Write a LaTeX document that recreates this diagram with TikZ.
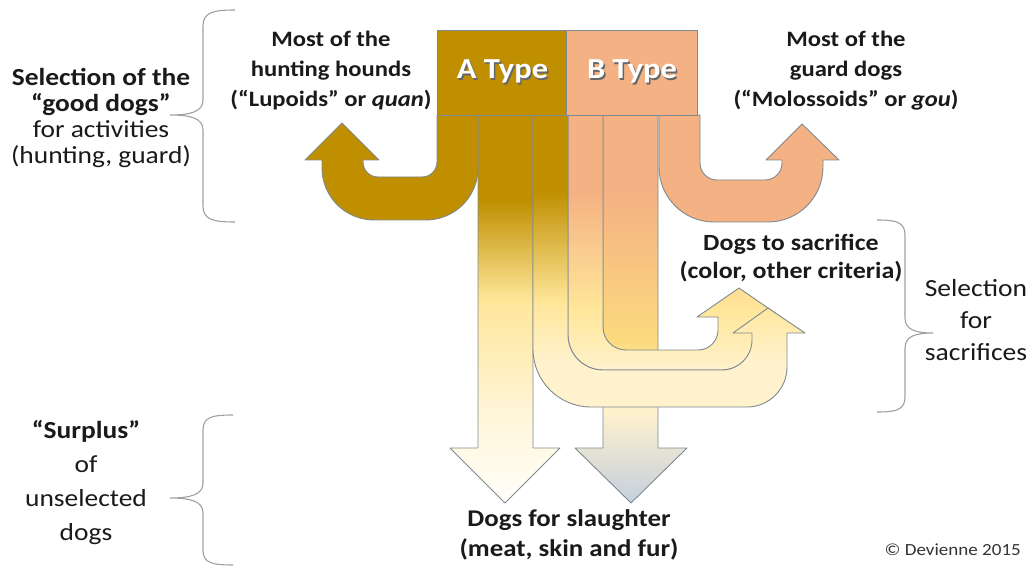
\documentclass[tikz,border=0pt]{standalone}
\usepackage{fontspec}
\setmainfont{Carlito}[FakeStretch=1.12]
\definecolor{gold}{HTML}{BF8F00}
\definecolor{peach}{HTML}{F4B183}
\definecolor{yel}{HTML}{FFE699}
\definecolor{yeldeep}{HTML}{FCDA7E}
\definecolor{cream}{HTML}{FFF2CC}
\definecolor{palecream}{HTML}{FFF6DC}
\definecolor{whitish}{HTML}{FFFEF8}
\definecolor{bluish}{HTML}{C5CFDF}
\definecolor{lineC}{HTML}{7E8A90}
\definecolor{braceC}{HTML}{A0A0A0}
\definecolor{txt}{HTML}{1A1A1A}
\pgfdeclareverticalshading{shA}{100bp}{color(0bp)=(whitish); color(25bp)=(whitish); color(35.7bp)=(palecream); color(51.2bp)=(yel); color(64bp)=(gold); color(75bp)=(gold); color(100bp)=(gold)}
\pgfdeclareverticalshading{shB}{100bp}{color(0bp)=(bluish); color(25bp)=(bluish); color(37bp)=(cream); color(46bp)=(yeldeep); color(65bp)=(peach); color(75bp)=(peach); color(100bp)=(peach)}
\pgfdeclareverticalshading{shUo}{100bp}{color(0bp)=(cream); color(25bp)=(cream); color(33bp)=(cream); color(43bp)=(yel); color(62bp)=(gold); color(75bp)=(gold); color(100bp)=(gold)}
\pgfdeclareverticalshading{shUi}{100bp}{color(0bp)=(cream); color(25bp)=(cream); color(37bp)=(yel); color(60bp)=(peach); color(75bp)=(peach); color(100bp)=(peach)}
\newcommand\shadowed[1]{\leavevmode\rlap{\hspace{1.5pt}\raisebox{-1.5pt}{\textcolor{black!60}{#1}}}#1}
\begin{document}
\begin{tikzpicture}[x=1pt,y=-1pt,
  flow/.style={draw=lineC, line width=0.9pt, line join=round},
  typebox/.style={draw=lineC, line width=0.9pt, minimum width=131pt, minimum height=85pt, inner sep=0pt, text=white, font=\bfseries\fontsize{29}{32}\selectfont},
  lbl/.style={text=txt, align=center, inner sep=0pt},
  bl/.style={lbl, font=\bfseries\fontsize{22}{30}\selectfont},
  brace/.style={draw=braceC, line width=1.1pt}]
\useasboundingbox (0,0) rectangle (1030,569);
% B2 column to slaughter (bluish arrow)
\shadedraw[flow, shading=shB] (603,115) -- (603,448) -- (575,448) -- (631,503) -- (687,448) -- (658,448) -- (658,115) -- cycle;
% A1 column to slaughter (white arrow)
\shadedraw[flow, shading=shA] (478,115) -- (478,448) -- (450,448) -- (505,503) -- (560,448) -- (533,448) -- (533,115) -- cycle;
% inner U (B1) to sacrifice
\shadedraw[flow, shading=shUi] (568,115) -- (568,335) arc[start angle=180, end angle=90, radius=35]
  -- (721,370) arc[start angle=90, end angle=0, radius=35]
  -- (756,317) -- (781,317) -- (739,288) -- (697,317) -- (718,317) -- (718,330)
  arc[start angle=0, end angle=90, radius=20] -- (626,350)
  arc[start angle=90, end angle=180, radius=23] -- (603,115) -- cycle;
% outer U (A2) to sacrifice
\shadedraw[flow, shading=shUo] (533,115) -- (533,349) arc[start angle=180, end angle=90, radius=58]
  -- (747,407) arc[start angle=90, end angle=0, radius=40]
  -- (787,333) -- (805,333) -- (768,308) -- (733,333) -- (752,333) -- (752,340)
  arc[start angle=0, end angle=90, radius=30] -- (603,370)
  arc[start angle=90, end angle=180, radius=35] -- (568,115) -- cycle;
% left U (hunting hounds)
\filldraw[flow, fill=gold] (478,115) -- (478,168) arc[start angle=0, end angle=90, radius=52]
  -- (374,220) arc[start angle=90, end angle=180, radius=52]
  -- (322,160) -- (305,160) -- (342,123) -- (379,160) -- (363,160) -- (363,162)
  arc[start angle=180, end angle=90, radius=15] -- (422,177)
  arc[start angle=90, end angle=0, radius=15] -- (437,115) -- cycle;
% right U (guard dogs)
\filldraw[flow, fill=peach] (659,115) -- (659,167) arc[start angle=180, end angle=90, radius=55]
  -- (768,222) arc[start angle=90, end angle=0, radius=55]
  -- (823,160) -- (839,160) -- (802,124) -- (766,160) -- (782,160) -- (782,163)
  arc[start angle=0, end angle=90, radius=17] -- (717,180)
  arc[start angle=90, end angle=180, radius=17] -- (700,115) -- cycle;
% type boxes
\node (A) [typebox, fill=gold] at (502.5,72.5) {\shadowed{A Type}};
\node (B) [typebox, fill=peach] at (632,72.5) {\shadowed{B Type}};
% labels
\node (hunt) [bl] at (331,71) {Most of the\\hunting hounds\\(“Lupoids” or \textit{quan})};
\node (guard) [bl] at (846,71) {Most of the\\guard dogs\\(“Molossoids” or \textit{gou})};
\node (sacr) [bl, font=\bfseries\fontsize{23.2}{28}\selectfont] at (791,258) {Dogs to sacrifice\\(color, other criteria)};
\node (slau) [bl, font=\bfseries\fontsize{24}{30}\selectfont] at (569,535) {Dogs for slaughter\\(meat, skin and fur)};
\node (good) [lbl, font=\fontsize{24.5}{26}\selectfont] at (101,118) {\textbf{Selection of the}\\\textbf{“good dogs”}\\for activities\\(hunting, guard)};
\node (selsac) [lbl, font=\fontsize{24.6}{32}\selectfont] at (976,320) {Selection\\for\\sacrifices};
\node (surp) [lbl, font=\fontsize{24.5}{34}\selectfont] at (86,483) {\textbf{“Surplus”}\\of\\unselected\\dogs};
\node (copy) [lbl, anchor=east, text=black!80, font=\fontsize{17}{20}\selectfont] at (1021,550) {© Devienne 2015};
% braces
\coordinate (b1t) at (235,10); \coordinate (b1m) at (170,115); \coordinate (b1b) at (235,222);
\draw[brace] (b1t) .. controls (214,10) and (203,12) .. (203,26) -- (203,100) .. controls (203,112) and (190,115) .. (b1m)
  .. controls (190,115) and (203,118) .. (203,130) -- (203,206) .. controls (203,220) and (214,222) .. (b1b);
\coordinate (b2t) at (233,415); \coordinate (b2m) at (170,498); \coordinate (b2b) at (233,565);
\draw[brace] (b2t) .. controls (212,415) and (203,417) .. (203,430) -- (203,483) .. controls (203,495) and (190,498) .. (b2m)
  .. controls (190,498) and (203,501) .. (203,513) -- (203,550) .. controls (203,563) and (212,565) .. (b2b);
\coordinate (b3t) at (877,220); \coordinate (b3m) at (933,333); \coordinate (b3b) at (877,412);
\draw[brace] (b3t) .. controls (896,220) and (905,222) .. (905,235) -- (905,318) .. controls (905,330) and (916,333) .. (b3m)
  .. controls (916,333) and (905,336) .. (905,348) -- (905,397) .. controls (905,410) and (896,412) .. (b3b);
\end{tikzpicture}
\end{document}
